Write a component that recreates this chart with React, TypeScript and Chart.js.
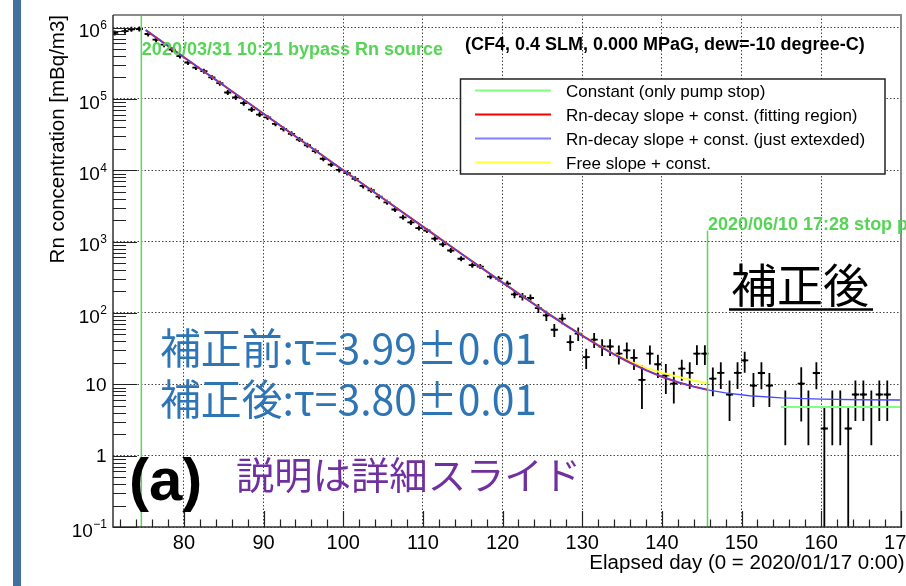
import React, { useEffect, useRef } from 'react';
import { Chart, registerables } from 'chart.js';

Chart.register(...registerables);

// ---------------- data ----------------
const pointDays = [
  71.3, 72.6, 73.4, 74.4, 75.5, 76.5, 77.5, 78.5, 79.5, 80.5,
  81.5, 82.5, 83.5, 84.5, 85.5, 86.5, 87.5, 88.5, 89.5, 90.5,
  91.5, 92.5, 93.5, 94.5, 95.5, 96.5, 97.5, 98.5, 99.5, 100.5,
  101.5, 102.5, 103.5, 104.5, 105.5, 106.5, 107.5, 108.5, 109.5, 110.5,
  111.5, 112.5, 113.5, 114.8, 116.2, 117.2, 118.5, 119.5, 120.6, 121.5,
  122.5, 123.5, 124.5, 125.5, 126.5, 127.5, 128.5, 129.5, 130.5, 131.5,
  132.5, 133.5, 134.6, 135.6, 136.5, 137.5, 138.5, 139.5, 140.5, 141.5,
  142.5, 143.5, 144.4, 145.4, 146.4, 147.4, 148.5, 149.5, 150.4, 151.5,
  152.5, 153.5, 155.5, 157.5, 158.4, 159.4, 160.4, 161.4, 162.4, 163.4,
  164.3, 165.3, 166.3, 167.3, 168.3,
];
const pointValues = [
  840000, 890000, 944000, 955000, 813000, 676000, 575000, 490000, 398000, 324000,
  275000, 245000, 200000, 166000, 123000, 105000, 87100, 70800, 60300, 55000,
  44700, 38000, 32400, 26900, 22400, 18600, 14500, 12000, 10100, 9120,
  7590, 6030, 5250, 4270, 3550, 2820, 2190, 1860, 1550, 1430,
  1100, 912, 750, 575, 468, 447, 324, 302, 257, 182,
  170, 162, 117, 92.3, 58.2, 83.2, 38.9, 51.3, 24.0, 42.2,
  33.9, 33.9, 26.9, 29.9, 23.4, 11.5, 26.9, 19.1, 13.3, 10.2,
  16.6, 14.5, 26.9, 26.9, 12.0, 14.5, 7.2, 14.5, 21.6, 9.6,
  14.4, 9.6, 4.8, 10.2, 4.8, 14.4, 2.4, 4.8, 4.8, 2.4,
  7.2, 7.2, 4.8, 7.2, 7.2,
];
const pointErrors = [
  1300, 1400, 1500, 1500, 1400, 1300, 1200, 1100, 980, 880,
  810, 770, 690, 630, 540, 500, 460, 410, 380, 360,
  330, 300, 280, 250, 230, 210, 190, 170, 156, 148,
  135, 120, 112, 101, 92, 82, 72, 67, 61, 59,
  51, 47, 42, 37, 34, 33, 28, 27, 25, 21,
  20, 20, 17, 15, 12, 14, 9.7, 11, 7.6, 10,
  9, 9, 8, 8.5, 7.5, 7, 8, 6.8, 6, 4.8,
  5.4, 5.9, 8.3, 8.3, 5.2, 5.9, 4.15, 5.9, 7.1, 4.8,
  5.9, 4.8, 3.4, 7.2, 3.4, 5.9, 2.5, 3.4, 3.4, 2.5,
  4.15, 4.15, 3.4, 4.15, 4.15,
];
const pointDayHalfWidth = 0.45;

const fitDays = [75.2, 80, 85, 90, 95, 100, 105, 110, 115, 120, 123, 126, 128, 130, 132, 134, 136, 138, 140, 142, 144, 145.73];
const redValues = [922000, 384000, 154300, 62000, 24900, 10006, 4024, 1620, 654, 266, 156.7, 93.2, 66.5, 48.0, 35.2, 26.25, 20.06, 15.76, 12.78, 10.71, 9.27, 8.38];
const yellowValues = [922000, 383000, 154000, 62000, 24900, 10000, 4030, 1625, 657, 268, 158, 94, 67.2, 48.6, 35.8, 26.8, 21.0, 17.0, 14.5, 12.8, 11.3, 10.4];
const blueDays = [75.2, 80, 85, 90, 95, 100, 105, 110, 115, 120, 123, 126, 128, 130, 132, 134, 136, 138, 140, 142, 144, 145.73, 148, 151, 155, 160, 165, 170.15];
const blueValues = [922000, 384000, 154300, 62000, 24900, 10006, 4024, 1620, 654, 266, 156.7, 93.2, 66.5, 48.0, 35.2, 26.25, 20.06, 15.76, 12.78, 10.71, 9.27, 8.38, 7.58, 6.91, 6.44, 6.18, 6.07, 6.03];
const constDays = [155, 170.15];
const constValues = [4.8, 4.8];

const bypassDay = 74.65;
const stopDay = 145.73;
const stopLineTop = 1430;

const xTickValues = [80, 90, 100, 110, 120, 130, 140, 150, 160, 170];
const yTickValues = [0.1, 1, 10, 100, 1000, 10000, 100000, 1000000];
const yTickBase = ['10', '1', '10', '10', '10', '10', '10', '10'];
const yTickSup = ['\u22121', '', '', '2', '3', '4', '5', '6'];

const legendLabels = [
  'Constant (only pump stop)',
  'Rn-decay slope + const. (fitting region)',
  'Rn-decay slope + const. (just extexded)',
  'Free slope + const.',
];

const X_MIN = 71.09;
const X_MAX = 170.15;
const Y_MIN = 0.1;
const Y_MAX = 1.5e6;

const SANS = '"Liberation Sans", Arial, Helvetica, sans-serif';
const CJK = '"Noto Sans CJK JP", "Noto Sans CJK SC", sans-serif';

const COL_GREEN_LINE = '#5ad65a';
const COL_CONST = '#80ff80';
const COL_RED = '#ff0000';
const COL_BLUE = '#4848ff';
const COL_YELLOW = '#ffff40';

function fillFit(ctx: CanvasRenderingContext2D, text: string, x: number, y: number, width: number) {
  const w = ctx.measureText(text).width;
  ctx.save();
  ctx.translate(x, y);
  ctx.scale(width / w, 1);
  ctx.textAlign = 'left';
  ctx.fillText(text, 0, 0);
  ctx.restore();
}

const rootPlugin = {
  id: 'rootStyle',
  afterDatasetDraw(chart: any, args: any) {
    if (args.index !== 0) return;
    const { ctx, chartArea: a } = chart;
    const xs = chart.scales.x;
    const ys = chart.scales.y;
    ctx.save();
    ctx.beginPath();
    ctx.rect(a.left, a.top, a.right - a.left, a.bottom - a.top);
    ctx.clip();
    ctx.strokeStyle = '#000';
    ctx.lineWidth = 1.8;
    pointDays.forEach((d, i) => {
      const v = pointValues[i];
      const e = pointErrors[i];
      const px = xs.getPixelForValue(d);
      const py = ys.getPixelForValue(v);
      let top = ys.getPixelForValue(v + e);
      let bot = v - e > 0 ? ys.getPixelForValue(v - e) : a.bottom + 2;
      top = Math.min(top, py - 2.5);
      bot = Math.max(bot, py + 2.5);
      ctx.beginPath();
      ctx.moveTo(px, top);
      ctx.lineTo(px, bot);
      ctx.moveTo(xs.getPixelForValue(d - pointDayHalfWidth), py);
      ctx.lineTo(xs.getPixelForValue(d + pointDayHalfWidth), py);
      ctx.stroke();
    });
    ctx.restore();
  },
  afterDraw(chart: any) {
    const { ctx, chartArea: a } = chart;
    const xs = chart.scales.x;
    const ys = chart.scales.y;
    ctx.save();

    // frame
    ctx.strokeStyle = '#8a8a8a';
    ctx.lineWidth = 2;
    ctx.beginPath();
    ctx.moveTo(a.left, a.top);
    ctx.lineTo(a.right, a.top);
    ctx.moveTo(a.right - 1, a.top);
    ctx.lineTo(a.right - 1, a.bottom);
    ctx.stroke();

    ctx.strokeStyle = '#333';
    ctx.lineWidth = 1.5;
    ctx.beginPath();
    ctx.moveTo(a.left, a.top);
    ctx.lineTo(a.left, a.bottom);
    ctx.lineTo(a.right, a.bottom);
    ctx.stroke();

    // ticks
    ctx.strokeStyle = '#222';
    ctx.lineWidth = 1.2;
    ctx.beginPath();
    xTickValues.forEach((v) => {
      const px = Math.round(xs.getPixelForValue(v)) + 0.5;
      ctx.moveTo(px, a.bottom);
      ctx.lineTo(px, a.bottom - 16);
    });
    for (let v = 72; v <= X_MAX; v += 2) {
      if (v % 10 === 0) continue;
      const px = Math.round(xs.getPixelForValue(v)) + 0.5;
      ctx.moveTo(px, a.bottom);
      ctx.lineTo(px, a.bottom - 7.5);
    }
    yTickValues.forEach((v) => {
      const py = Math.round(ys.getPixelForValue(v)) + 0.5;
      ctx.moveTo(a.left, py);
      ctx.lineTo(a.left + 24, py);
      for (let k = 2; k <= 9; k++) {
        const mv = v * k;
        if (mv > Y_MAX) break;
        const my = Math.round(ys.getPixelForValue(mv)) + 0.5;
        ctx.moveTo(a.left, my);
        ctx.lineTo(a.left + 13, my);
      }
    });
    ctx.stroke();

    // x tick labels
    ctx.fillStyle = '#000';
    ctx.font = `20px ${SANS}`;
    ctx.textAlign = 'center';
    ctx.textBaseline = 'alphabetic';
    xTickValues.forEach((v) => {
      ctx.fillText(String(v), xs.getPixelForValue(v), 548.5);
    });

    // y tick labels
    const rightEdge = 106.5;
    yTickValues.forEach((v, i) => {
      const py = ys.getPixelForValue(v);
      const base = yTickBase[i];
      const sup = yTickSup[i];
      ctx.textAlign = 'left';
      ctx.font = `12px ${SANS}`;
      const sw = sup ? ctx.measureText(sup).width : 0;
      ctx.font = `19px ${SANS}`;
      const bw = ctx.measureText(base).width;
      const x0 = rightEdge - sw - bw;
      if (sup) {
        ctx.fillText(base, x0, py + 9.8);
        ctx.font = `12px ${SANS}`;
        ctx.fillText(sup, x0 + bw + 0.5, py + 1.3);
      } else {
        ctx.fillText(base, x0, py + 6.8);
      }
    });

    // axis titles
    ctx.font = `20.5px ${SANS}`;
    ctx.textAlign = 'right';
    ctx.fillText('Elapsed day (0 = 2020/01/17 0:00)', 904.5, 568.5);
    ctx.save();
    ctx.translate(64, 15);
    ctx.rotate(-Math.PI / 2);
    ctx.textAlign = 'right';
    ctx.fillText('Rn concentration [mBq/m3]', 0, 0);
    ctx.restore();

    // green annotations
    ctx.textAlign = 'left';
    ctx.fillStyle = '#55d455';
    ctx.font = `bold 18px ${SANS}`;
    ctx.fillText('2020/03/31 10:21 bypass Rn source', xs.getPixelForValue(bypassDay) + 0.5, 55);
    ctx.fillText('2020/06/10 17:28 stop pump', xs.getPixelForValue(stopDay) + 0.5, 230);

    // run condition title
    ctx.fillStyle = '#000';
    ctx.font = `bold 18px ${SANS}`;
    ctx.fillText('(CF4, 0.4 SLM, 0.000 MPaG, dew=-10 degree-C)', 465, 50);

    // legend
    const lx0 = 460.5, ly0 = 79, lx1 = 885, ly1 = 174;
    ctx.fillStyle = '#fff';
    ctx.fillRect(lx0, ly0, lx1 - lx0, ly1 - ly0);
    ctx.strokeStyle = '#222';
    ctx.lineWidth = 1.5;
    ctx.strokeRect(lx0, ly0, lx1 - lx0, ly1 - ly0);
    const legendColors = [COL_CONST, COL_RED, '#8080ff', COL_YELLOW];
    ctx.font = `17px ${SANS}`;
    ctx.fillStyle = '#000';
    legendLabels.forEach((lab, i) => {
      const cy = 90.5 + i * 24;
      ctx.strokeStyle = legendColors[i];
      ctx.lineWidth = 2;
      ctx.beginPath();
      ctx.moveTo(475, cy);
      ctx.lineTo(551, cy);
      ctx.stroke();
      ctx.fillText(lab, 566, cy + 6);
    });

    // slide overlays
    ctx.fillStyle = '#2e75b6';
    ctx.font = `42px ${CJK}`;
    fillFit(ctx, '補正前:τ=3.99±0.01', 160, 364, 377);
    fillFit(ctx, '補正後:τ=3.80±0.01', 160, 415, 377);

    ctx.fillStyle = '#000';
    ctx.font = `bold 60px ${SANS}`;
    ctx.fillText('(a)', 129, 500);

    ctx.fillStyle = '#7030a0';
    ctx.font = `38px ${CJK}`;
    fillFit(ctx, '説明は詳細スライド', 236, 489, 345);

    ctx.fillStyle = '#000';
    ctx.font = `46px ${CJK}`;
    ctx.fillText('補正後', 731, 302);
    ctx.strokeStyle = '#000';
    ctx.lineWidth = 2.5;
    ctx.beginPath();
    ctx.moveTo(729, 309.5);
    ctx.lineTo(873, 309.5);
    ctx.stroke();

    ctx.restore();
  },
};

const toXY = (xsArr: number[], ysArr: number[]) => xsArr.map((x, i) => ({ x, y: ysArr[i] }));

export default function App() {
  const canvasRef = useRef<HTMLCanvasElement | null>(null);

  useEffect(() => {
    const canvas = canvasRef.current;
    if (!canvas) return;
    const chart = new Chart(canvas, {
      type: 'line',
      data: {
        datasets: [
          {
            label: 'data',
            data: toXY(pointDays, pointValues),
            showLine: false,
            pointRadius: 1.6,
            pointBackgroundColor: '#000',
            pointBorderWidth: 0,
            order: 10,
          },
          {
            label: legendLabels[3],
            data: toXY(fitDays, yellowValues),
            borderColor: COL_YELLOW,
            borderWidth: 2,
            pointRadius: 0,
            order: 4,
          },
          {
            label: legendLabels[1],
            data: toXY(fitDays, redValues),
            borderColor: COL_RED,
            borderWidth: 2,
            pointRadius: 0,
            order: 3,
          },
          {
            label: legendLabels[2],
            data: toXY(blueDays, blueValues),
            borderColor: COL_BLUE,
            borderWidth: 1.3,
            pointRadius: 0,
            order: 2,
          },
          {
            label: legendLabels[0],
            data: toXY(constDays, constValues),
            borderColor: COL_CONST,
            borderWidth: 2,
            pointRadius: 0,
            order: 1,
          },
          {
            label: 'bypass',
            data: [{ x: bypassDay, y: Y_MIN }, { x: bypassDay, y: Y_MAX }],
            borderColor: COL_GREEN_LINE,
            borderWidth: 1.5,
            pointRadius: 0,
            order: 0,
          },
          {
            label: 'stop',
            data: [{ x: stopDay, y: Y_MIN }, { x: stopDay, y: stopLineTop }],
            borderColor: COL_GREEN_LINE,
            borderWidth: 1.5,
            pointRadius: 0,
            order: 0,
          },
        ],
      },
      options: {
        animation: false,
        responsive: false,
        devicePixelRatio: 1,
        layout: { padding: { left: 0, right: 0, top: 15, bottom: 0 } },
        elements: { line: { tension: 0 } },
        plugins: {
          legend: { display: false },
          tooltip: { enabled: false },
          title: { display: false },
        },
        scales: {
          x: {
            type: 'linear',
            min: X_MIN,
            max: X_MAX,
            ticks: { display: false },
            grid: { color: '#444', lineWidth: 1, drawTicks: false },
            border: { display: false, dash: [1.5, 2] },
            afterBuildTicks: (s: any) => {
              s.ticks = xTickValues.map((v) => ({ value: v }));
            },
            afterFit: (s: any) => {
              s.height = 59;
            },
          },
          y: {
            type: 'logarithmic',
            min: Y_MIN,
            max: Y_MAX,
            ticks: { display: false },
            grid: { color: '#444', lineWidth: 1, drawTicks: false },
            border: { display: false, dash: [1.5, 2] },
            afterBuildTicks: (s: any) => {
              s.ticks = yTickValues.map((v) => ({ value: v }));
            },
            afterFit: (s: any) => {
              s.width = 113;
            },
          },
        },
      } as any,
      plugins: [rootPlugin],
    });
    return () => chart.destroy();
  }, []);

  return (
    <div style={{ position: 'fixed', left: 0, top: 0, width: 906, height: 586, background: '#fff', overflow: 'hidden' }}>
      <canvas ref={canvasRef} width={906} height={586} style={{ position: 'absolute', left: 0, top: 0, display: 'block' }} />
      <div style={{ position: 'absolute', left: 13, top: 0, width: 8, height: 586, background: '#41719c' }} />
    </div>
  );
}
